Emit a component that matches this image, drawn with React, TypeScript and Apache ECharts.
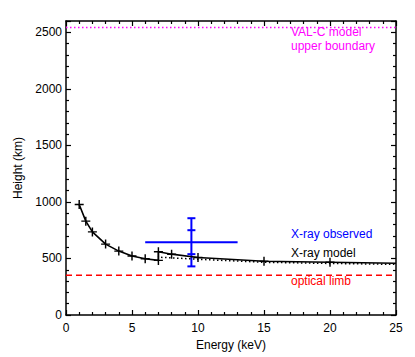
import React, { useEffect, useRef } from "react";
import * as echarts from "echarts";

// Model curve (energy keV, height km); the jump at 7 keV is part of the data
const modelEnergy = [1, 1.5, 2, 3, 4, 5, 6, 7, 7, 8, 10, 15, 20, 25];
const modelHeight = [977, 830, 735, 627, 565, 521, 497, 483, 559, 538, 509, 475, 466, 457];
const modelMarked = [true, true, true, true, true, true, true, true, true, true, true, true, true, false];

// Dotted continuation
const dottedEnergy = [7.2, 10, 15, 20, 25];
const dottedHeight = [510, 493, 466, 456, 448];

// Observed X-ray point with errors
const obsEnergy = [9.5];
const obsEnergyLo = [6.0];
const obsEnergyHi = [13.0];
const obsHeight = [644];
const obsHeightInnerLo = [538];
const obsHeightInnerHi = [750];
const obsHeightLo = [430];
const obsHeightHi = [856];

const valcHeight = 2543;
const limbHeight = 352;
const xRange = [0, 25];

const xTicks = [0, 5, 10, 15, 20, 25];
const yTicks = [0, 500, 1000, 1500, 2000, 2500];

const FONT = "Liberation Sans, Arial, Helvetica, sans-serif";
const PLUS = "path://M-0.16,-1H0.16V-0.16H1V0.16H0.16V1H-0.16V0.16H-1V-0.16H-0.16Z";

export default function App() {
  const ref = useRef<HTMLDivElement>(null);
  useEffect(() => {
    if (!ref.current) return;
    const chart = echarts.init(ref.current, undefined, { renderer: "svg" });
    const axisCommon = {
      type: "value" as const,
      axisLine: { show: true, onZero: false, lineStyle: { color: "#000", width: 1.5 } },
      axisTick: { show: true, inside: true, length: 5, lineStyle: { color: "#000", width: 1.2 } },
      minorTick: { show: true, splitNumber: 5, length: 3, lineStyle: { color: "#000", width: 1.2 } },
      splitLine: { show: false },
    };
    const labelStyle = { color: "#000", fontSize: 12, fontFamily: FONT, fontWeight: "normal" as const };
    const option: any = {
      animation: false,
      backgroundColor: "#fff",
      grid: { left: 66, right: 19, top: 21, bottom: 42, containLabel: false },
      xAxis: [
        {
          ...axisCommon,
          min: xRange[0],
          max: xRange[1],
          interval: xTicks[1] - xTicks[0],
          position: "bottom",
          axisLabel: { ...labelStyle, margin: 7 },
          name: "Energy (keV)",
          nameLocation: "middle",
          nameGap: 20,
          nameTextStyle: { ...labelStyle },
        },
        {
          ...axisCommon,
          min: xRange[0],
          max: xRange[1],
          interval: 5,
          position: "top",
          axisLabel: { show: false },
        },
      ],
      yAxis: [
        {
          ...axisCommon,
          min: 0,
          max: 2600,
          interval: yTicks[1] - yTicks[0],
          position: "left",
          axisLabel: {
            ...labelStyle,
            margin: 4,
            formatter: (v: number) => (yTicks.includes(v) ? String(v) : ""),
          },
          name: "Height (km)",
          nameLocation: "middle",
          nameGap: 42,
          nameTextStyle: { ...labelStyle },
        },
        {
          ...axisCommon,
          min: 0,
          max: 2600,
          interval: 500,
          position: "right",
          axisLabel: { show: false },
        },
      ],
      series: [
        {
          type: "line",
          data: [[xRange[0], valcHeight], [xRange[1], valcHeight]],
          symbol: "none",
          lineStyle: { color: "#ff00ff", width: 1.5, type: [1.5, 2.5] },
          silent: true,
        },
        {
          type: "line",
          data: [[xRange[0], limbHeight], [xRange[1], limbHeight]],
          symbol: "none",
          lineStyle: { color: "#ff0000", width: 1.5, type: [6, 4] },
          silent: true,
        },
        {
          type: "line",
          data: dottedEnergy.map((x, i) => [x, dottedHeight[i]]),
          symbol: "none",
          lineStyle: { color: "#000", width: 1.5, type: [1.5, 2.5] },
          silent: true,
        },
        {
          type: "line",
          data: modelEnergy.map((x, i) => ({
            value: [x, modelHeight[i]],
            symbol: modelMarked[i] ? PLUS : "none",
          })),
          symbolSize: 9,
          showAllSymbol: true,
          itemStyle: { color: "#000" },
          lineStyle: { color: "#000", width: 1.6 },
          silent: true,
        },
        {
          type: "custom",
          silent: true,
          data: obsEnergy.map((x, i) => [
            x,
            obsHeight[i],
            obsEnergyLo[i],
            obsEnergyHi[i],
            obsHeightLo[i],
            obsHeightHi[i],
            obsHeightInnerLo[i],
            obsHeightInnerHi[i],
          ]),
          renderItem: (params: any, api: any) => {
            const c = api.coord([api.value(0), api.value(1)]);
            const xl = api.coord([api.value(2), api.value(1)]);
            const xh = api.coord([api.value(3), api.value(1)]);
            const yl = api.coord([api.value(0), api.value(4)]);
            const yh = api.coord([api.value(0), api.value(5)]);
            const il = api.coord([api.value(0), api.value(6)]);
            const ih = api.coord([api.value(0), api.value(7)]);
            const cap = 4;
            const style = { stroke: "#0000ff", lineWidth: 2 };
            const ln = (x1: number, y1: number, x2: number, y2: number) => ({
              type: "line",
              shape: { x1, y1, x2, y2 },
              style,
            });
            return {
              type: "group",
              children: [
                ln(xl[0], c[1], xh[0], c[1]),
                ln(c[0], yl[1], c[0], yh[1]),
                ln(c[0] - cap, yl[1], c[0] + cap, yl[1]),
                ln(c[0] - cap, yh[1], c[0] + cap, yh[1]),
                ln(c[0] - cap, il[1], c[0] + cap, il[1]),
                ln(c[0] - cap, ih[1], c[0] + cap, ih[1]),
              ],
            };
          },
        },
      ],
      graphic: [
        { type: "text", left: 291, top: 26, style: { text: "VAL-C model", fill: "#ff00ff", font: `12px ${FONT}` } },
        { type: "text", left: 291, top: 40, style: { text: "upper boundary", fill: "#ff00ff", font: `12px ${FONT}` } },
        { type: "text", left: 291, top: 228, style: { text: "X-ray observed", fill: "#0000ff", font: `12px ${FONT}` } },
        { type: "text", left: 291, top: 247, style: { text: "X-ray model", fill: "#000", font: `12px ${FONT}` } },
        { type: "text", left: 291, top: 275, style: { text: "optical limb", fill: "#ff0000", font: `12px ${FONT}` } },
      ],
    };
    chart.setOption(option);
    return () => chart.dispose();
  }, []);
  return (
    <div
      ref={ref}
      style={{ position: "fixed", left: 0, top: 0, width: 415, height: 357, background: "#fff" }}
    />
  );
}
